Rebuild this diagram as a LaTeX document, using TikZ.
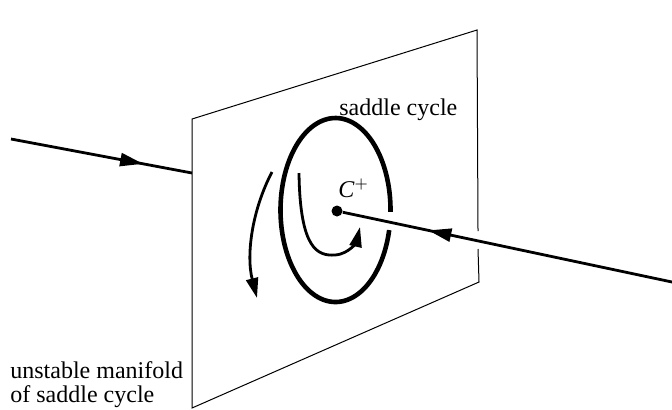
\documentclass[tikz,border=0pt]{standalone}
\usepackage{fontspec}
\setmainfont{Liberation Serif}
\usetikzlibrary{arrows.meta,decorations.markings}

\tikzset{
  sheet/.style={line width=0.5pt},
  orbit/.style={line width=1.4pt},
  saddleline/.style={line width=2.3pt},
  flowtip/.style={-{Triangle[length=10pt,width=6pt]}},
  midtip/.style={postaction={decorate},
    decoration={markings,mark=at position #1 with {\arrow{Triangle[length=11.5pt,width=6.5pt]}}}},
  backtip/.style={postaction={decorate},
    decoration={markings,mark=at position #1 with {\arrowreversed{Triangle[length=11.5pt,width=6.5pt]}}}},
  lbl/.style={inner sep=0pt,font=\fontsize{12}{12}\selectfont}
}

\begin{document}
\begin{tikzpicture}[x=0.5pt,y=-0.5pt]
  \useasboundingbox (0,0) rectangle (672,409);
  % the plane
  \coordinate (pTL) at (192,119);
  \coordinate (pTR) at (477,30);
  \coordinate (pBR) at (479,282);
  \coordinate (pBL) at (192,408);
  \coordinate (gapA) at (478,231);
  \coordinate (gapB) at (478,249);
  \draw[sheet] (gapA) -- (pTR) -- (pTL) -- (pBL) -- (pBR) -- (gapB);
  % saddle cycle, broken where the line passes
  \draw[saddleline] plot[domain=12.6:361.2,samples=120,smooth]
    ({335.5+55*cos(\x)},{210+92*sin(\x)});
  % point and its lines
  \node[circle,fill,inner sep=0pt,minimum size=5.5pt] (cplus) at (337,211) {};
  \node[lbl,anchor=base west] (cname) at (338,197) {\textit{C}$^{+}$};
  \coordinate (inL) at (11,139);
  \coordinate (hitL) at (192,173);
  \coordinate (outR) at (672,282);
  \draw[orbit,midtip=0.73] (inL) -- (hitL);
  \draw[orbit,backtip=0.26] (cplus) -- (outR);
  % flow on the plane
  \coordinate (uA) at (299,173);
  \coordinate (uB) at (335,255);
  \coordinate (uC) at (360,227);
  \draw[orbit,flowtip] (uA) .. controls (300,250) and (318,256) .. (uB)
    .. controls (350,254) and (357,240) .. (uC);
  \coordinate (sA) at (272,172);
  \coordinate (sB) at (257,298);
  \draw[orbit,flowtip] (sA) .. controls (252,210) and (246,255) .. (sB);
  % labels
  \node[lbl,anchor=base west] (cyclename) at (339,115) {saddle cycle};
  \node[lbl,anchor=south west,align=left] (maniname) at (10,408)
    {unstable manifold\\of saddle cycle};
\end{tikzpicture}
\end{document}
